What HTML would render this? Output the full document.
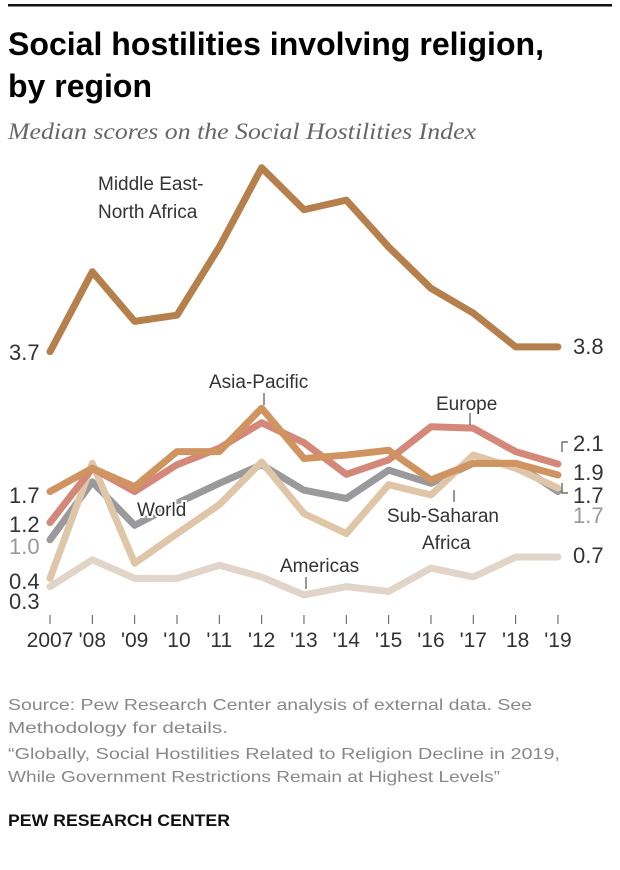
<!DOCTYPE html>
<html><head><meta charset="utf-8"><style>
body{margin:0;background:#fff;width:620px;height:870px;overflow:hidden;font-family:"Liberation Sans",sans-serif}
svg{display:block}
</style></head><body>
<svg id="chart" width="620" height="870" xmlns="http://www.w3.org/2000/svg">
<rect x="8" y="4" width="604" height="2.5" fill="#111"/>
<text x="8" y="55" font-weight="bold" font-size="32" fill="#000" textLength="536" lengthAdjust="spacingAndGlyphs">Social hostilities involving religion,</text>
<text x="8" y="97" font-weight="bold" font-size="32" fill="#000">by region</text>
<text x="8" y="139" font-family="'Liberation Serif',serif" font-style="italic" font-size="23" fill="#666" textLength="468" lengthAdjust="spacingAndGlyphs">Median scores on the Social Hostilities Index</text>
<g id="plot"></g>
<g font-size="19" fill="#333">
<text x="98" y="190">Middle East-</text>
<text x="98" y="218">North Africa</text>
<text x="209" y="388">Asia-Pacific</text>
<text x="436" y="410">Europe</text>
<text x="137" y="516" stroke="#fff" stroke-width="4" paint-order="stroke">World</text>
<text x="387" y="522">Sub-Saharan</text>
<text x="422" y="549">Africa</text>
<text x="280" y="572">Americas</text>
</g>
<g stroke="#555" stroke-width="1.2">
<line x1="264" y1="393" x2="264" y2="405"/><line x1="470" y1="413" x2="470" y2="425"/>
<line x1="454" y1="490" x2="454" y2="502"/><line x1="306" y1="577" x2="306" y2="589"/>
<polyline points="562,452 562,442 568,442" fill="none"/><polyline points="562,483 562,493 568,493" fill="none"/>
</g>
<g font-size="22" fill="#333">
<text x="9" y="360">3.7</text>
<text x="9" y="503">1.7</text>
<text x="9" y="532">1.2</text>
<text x="9" y="554" fill="#999">1.0</text>
<text x="9" y="589">0.4</text>
<text x="9" y="609">0.3</text>
<text x="573" y="354">3.8</text>
<text x="573" y="451">2.1</text>
<text x="573" y="480">1.9</text>
<text x="573" y="503">1.7</text>
<text x="573" y="523" fill="#999">1.7</text>
<text x="573" y="563">0.7</text>
</g>
<g font-size="16" fill="#888">
<text x="8" y="710" textLength="524" lengthAdjust="spacingAndGlyphs">Source: Pew Research Center analysis of external data. See</text>
<text x="8" y="733" textLength="220" lengthAdjust="spacingAndGlyphs">Methodology for details.</text>
<text x="8" y="759" textLength="552" lengthAdjust="spacingAndGlyphs">“Globally, Social Hostilities Related to Religion Decline in 2019,</text>
<text x="8" y="782" textLength="492" lengthAdjust="spacingAndGlyphs">While Government Restrictions Remain at Highest Levels”</text>
</g>
<text x="8" y="826" font-size="17" font-weight="bold" fill="#111" textLength="222" lengthAdjust="spacingAndGlyphs">PEW RESEARCH CENTER</text>
</svg>
<script>
const years = ['2007',"'08","'09","'10","'11","'12","'13","'14","'15","'16","'17","'18","'19"];
const world = [1.0,1.84,1.21,1.53,1.82,2.09,1.72,1.6,2.01,1.82,2.11,2.11,1.7];
const ssa = [0.44,2.11,0.66,1.09,1.51,2.13,1.38,1.09,1.8,1.65,2.23,2.04,1.75];
const americas = [0.32,0.71,0.44,0.44,0.63,0.46,0.2,0.32,0.25,0.59,0.46,0.75,0.75];
const europe = [1.25,2.04,1.7,2.09,2.33,2.7,2.41,1.95,2.16,2.64,2.62,2.28,2.1];
const asia = [1.7,2.04,1.77,2.28,2.28,2.91,2.18,2.23,2.3,1.87,2.11,2.11,1.94];
const mena = [3.73,4.89,4.17,4.26,5.25,6.4,5.79,5.93,5.25,4.65,4.29,3.8,3.8];
const NS='http://www.w3.org/2000/svg';
const g=document.getElementById('plot');
function xs(i){return 50+i*42.33;}
function ys(v){return 608.7-v*68.9;}
const ax=document.createElementNS(NS,'g');


g.appendChild(ax);
years.forEach((y,i)=>{
  const t=document.createElementNS(NS,'line');
  t.setAttribute('x1',xs(i));t.setAttribute('x2',xs(i));t.setAttribute('y1',615);t.setAttribute('y2',624);
  t.setAttribute('stroke','#555');t.setAttribute('stroke-width','1');
  
  
  ax.appendChild(t);
  const l=document.createElementNS(NS,'text');
  l.setAttribute('x',xs(i));l.setAttribute('y',647);l.setAttribute('text-anchor','middle');
  l.setAttribute('font-size','21');l.setAttribute('fill','#333');
  l.textContent=y;
  
  
  ax.appendChild(l);
});
function line(data,color,name){
  const p=document.createElementNS(NS,'polyline');
  p.setAttribute('points',data.map((v,i)=>xs(i)+','+ys(v)).join(' '));
  p.setAttribute('fill','none');p.setAttribute('stroke',color);p.setAttribute('stroke-width','7');
  p.setAttribute('stroke-linejoin','round');p.setAttribute('stroke-linecap','round');
  
  
  g.appendChild(p);
}
line(world,'#9a9a9c','series-world');
line(americas,'#e1d4c8','series-americas');
line(ssa,'#dfc6a8','series-sub-saharan-africa');
line(europe,'#d4887a','series-europe');
line(asia,'#d09460','series-asia-pacific');
line(mena,'#b5804b','series-middle-east-north-africa');
</script>
</body></html>
